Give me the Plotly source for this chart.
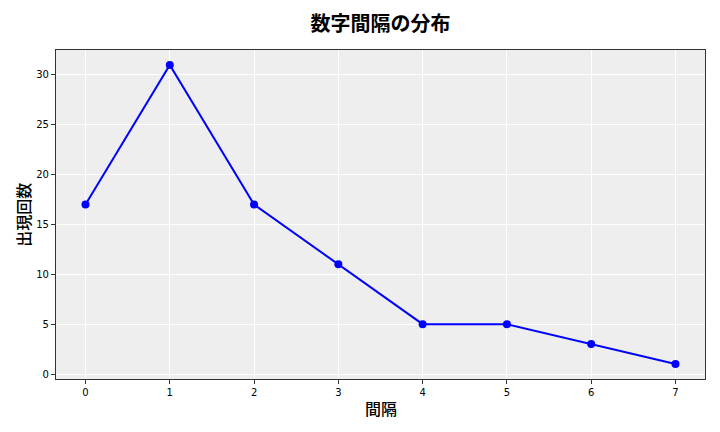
import plotly.graph_objects as go

# Data
intervals = [0, 1, 2, 3, 4, 5, 6, 7]
counts = [17, 31, 17, 11, 5, 5, 3, 1]
y_ticks = [0, 5, 10, 15, 20, 25, 30]

title_text = '数字間隔の分布'
x_label = '間隔'
y_label = '出現回数'

cjk_font = 'Noto Sans CJK JP'
tick_font = 'DejaVu Sans'

trace = go.Scatter(
    x=intervals, y=counts, mode='lines+markers',
    line=dict(color='#0000FF', width=2),
    marker=dict(color='#0000FF', size=8),
    showlegend=False,
)

axis_common = dict(
    showline=True, linecolor='#333333', linewidth=1.2, mirror=True,
    ticks='outside', ticklen=4, tickcolor='#333333',
    showgrid=True, gridcolor='white', gridwidth=1,
    zeroline=False, automargin=False,
    tickfont=dict(family=tick_font, size=10, color='black'),
)

label_font = dict(family=cjk_font, size=16, color='black', weight=500)

layout = go.Layout(
    width=720, height=432,
    margin=dict(l=56, r=15, t=50, b=53),
    paper_bgcolor='white', plot_bgcolor='#EEEEEE',
    title=dict(text=title_text, xref='paper', x=0.5, xanchor='center', y=0.945, yanchor='middle',
               font=dict(family=cjk_font, size=20, color='black', weight='bold')),
    xaxis=dict(axis_common, range=[-0.35, 7.35], tickmode='array', tickvals=intervals),
    yaxis=dict(axis_common, range=[-0.5, 32.5], tickmode='array', tickvals=y_ticks),
    annotations=[
        dict(text=x_label, xref='paper', yref='paper', x=0.5, y=-0.087,
             xanchor='center', yanchor='middle', showarrow=False, font=label_font),
        dict(text=y_label, xref='paper', yref='paper', x=-0.052, y=0.5,
             xanchor='center', yanchor='middle', showarrow=False, textangle=-90,
             font=label_font),
    ],
)

fig = go.Figure(data=[trace], layout=layout)
# drop the default page margin so the figure sits at the window's top-left corner
fig.write_html("out.html", config={'displayModeBar': False},
               post_script="document.body.style.margin='0';")
